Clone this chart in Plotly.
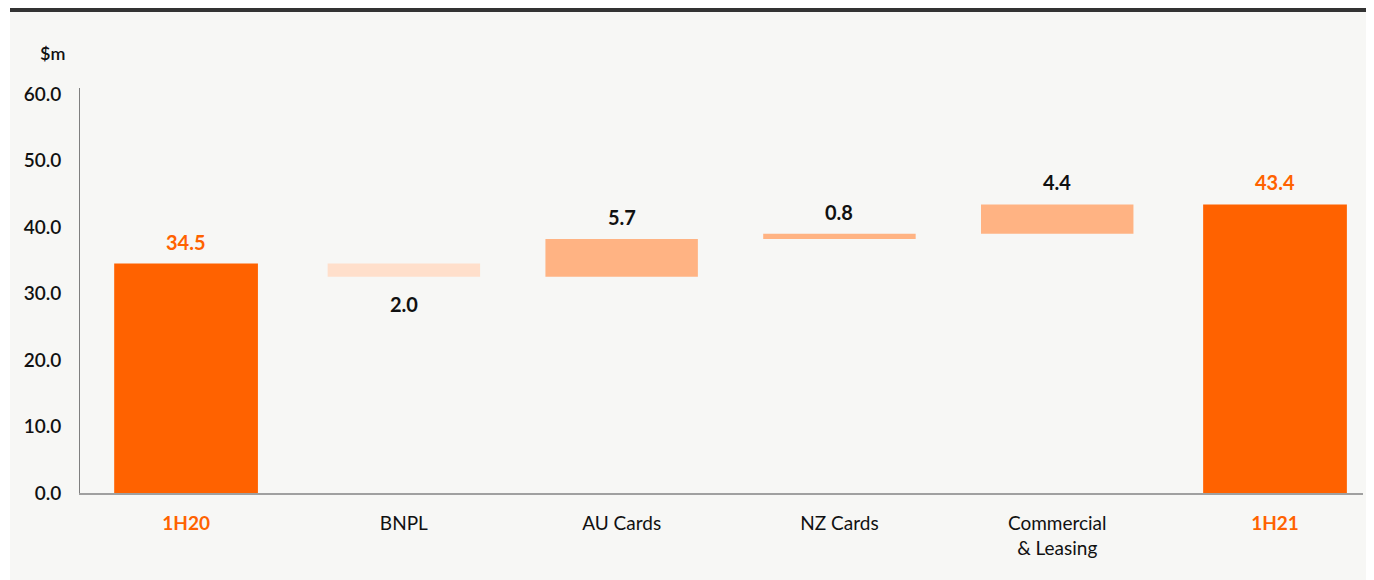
import plotly.graph_objects as go

categories = ["1H20", "BNPL", "AU Cards", "NZ Cards", "Commercial & Leasing", "1H21"]
tick_labels = ["1H20", "BNPL", "AU Cards", "NZ Cards", "Commercial<br>& Leasing", "1H21"]
values = [34.5, -2.0, 5.7, 0.8, 4.4, 43.4]
measures = ["absolute", "relative", "relative", "relative", "relative", "total"]
label_text = ["34.5", "2.0", "5.7", "0.8", "4.4", "43.4"]
y_ticks = [0, 10, 20, 30, 40, 50, 60]

ORANGE = "#FF6200"
INC = "#FFB383"
DEC = "#FFDFCB"
OFF = 8  # the page's default body margin
W, H = 1374 - OFF, 580 - OFF
ML, MR, MT, MB = 80 - OFF, 11, 88 - OFF, 87
PW, PH = W - ML - MR, H - MT - MB


def px_x(p):
    return (p - OFF - ML) / PW


def px_y(p):
    return (H - MB - (p - OFF)) / PH


bar_widths = [0.70 if m == "relative" else 0.66 for m in measures]

fig = go.Figure()
fig.add_trace(go.Waterfall(
    x=categories,
    y=values,
    measure=measures,
    width=bar_widths,
    increasing=dict(marker=dict(color=INC)),
    decreasing=dict(marker=dict(color=DEC)),
    totals=dict(marker=dict(color=ORANGE)),
    connector=dict(visible=False),
    hoverinfo="skip",
))

# data labels, positioned from the running totals
running = 0.0
for cat, m, v, t in zip(categories, measures, values, label_text):
    if m == "absolute":
        start, end = 0.0, v
        running = v
    elif m == "total":
        start, end = 0.0, running
    else:
        start, end = running, running + v
        running = end
    is_total = m != "relative"
    if v >= 0:
        y, shift = max(start, end), 22
    else:
        y, shift = min(start, end), -27
    fig.add_annotation(
        x=cat, y=y, text=f"<b>{t}</b>", showarrow=False, yshift=shift,
        yanchor="middle", xanchor="center",
        font=dict(family="Lato", size=20, color=ORANGE if is_total else "#111111"),
    )

tick_text = []
for cat, lab, m in zip(categories, tick_labels, measures):
    if m == "relative":
        tick_text.append(lab)
    else:
        tick_text.append(f"<span style='color:{ORANGE}'><b>{lab}</b></span>")

fig.add_annotation(
    xref="paper", yref="paper", x=px_x(52), y=px_y(53), text="$m", showarrow=False,
    xanchor="center", yanchor="middle",
    font=dict(family="Lato", size=18, color="#111111", weight=600),
)

# page background and top rule
fig.add_shape(type="rect", xref="paper", yref="paper", x0=px_x(10), x1=px_x(1374 + 5),
              y0=px_y(580 + 5), y1=px_y(7), fillcolor="#F7F7F5", line=dict(width=0), layer="below")
fig.add_shape(type="line", xref="paper", yref="paper", x0=px_x(10), x1=px_x(1374 + 5),
              y0=px_y(10), y1=px_y(10), line=dict(color="#333333", width=4), layer="above")

fig.update_layout(
    width=W, height=H,
    margin=dict(l=ML, r=MR, t=MT, b=MB),
    paper_bgcolor="white",
    plot_bgcolor="rgba(0,0,0,0)",
    showlegend=False,
    font=dict(family="Lato", color="#111111"),
    xaxis=dict(
        type="category",
        range=[-0.487, 5.404],
        tickmode="array", tickvals=categories, ticktext=tick_text,
        tickfont=dict(family="Lato", size=19, color="#111111"),
        showgrid=False, zeroline=False,
        showline=True, linecolor="#A0A0A0", linewidth=2,
        ticks="", ticklabelstandoff=12,
    ),
    yaxis=dict(
        range=[0, 60.9],
        tickmode="array", tickvals=y_ticks, ticktext=[f"{v:.1f}" for v in y_ticks],
        tickfont=dict(family="Lato", size=19, color="#111111", weight=600),
        showgrid=False, zeroline=False,
        showline=True, linecolor="#7F7F7F", linewidth=1,
        ticks="", ticklabelstandoff=14,
    ),
)

fig.write_html("out.html")
